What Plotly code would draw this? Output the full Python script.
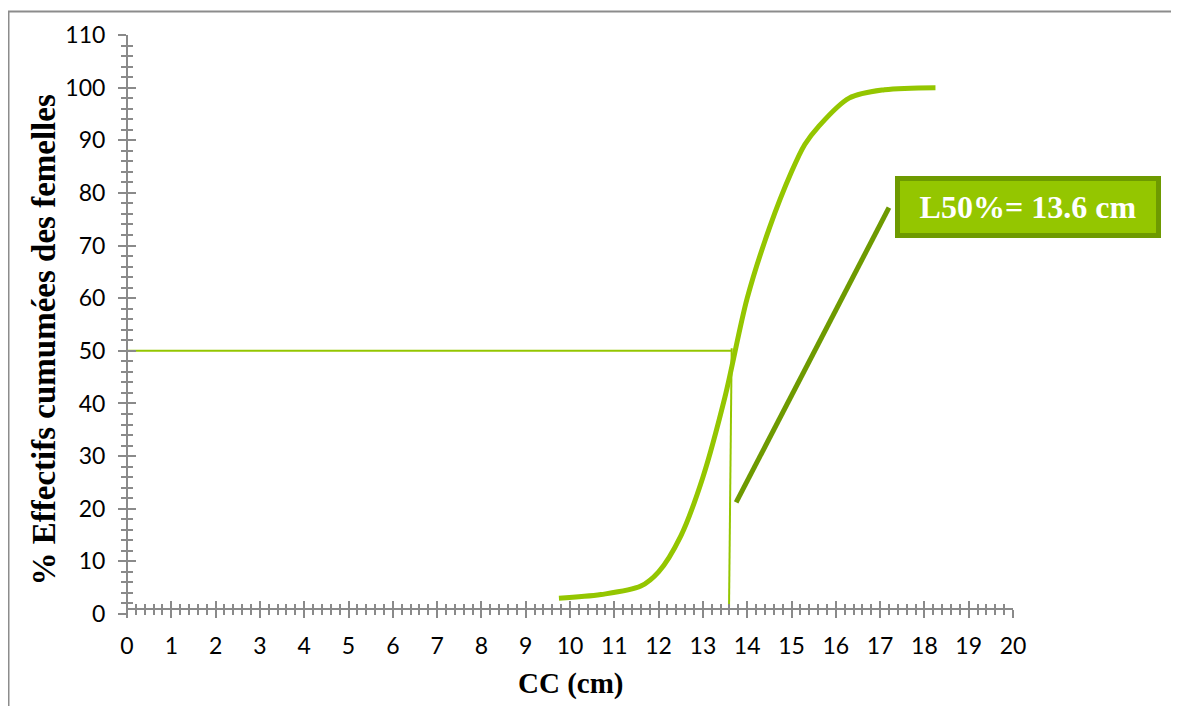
import plotly.graph_objects as go

# ---- data ----
cc_cm = [9.75, 10.7, 11.6, 12.0, 12.5, 13.0, 13.5, 14.0, 14.5, 15.0, 15.3, 15.6, 16.3, 17.1, 18.25]
pct_cum = [3.0, 3.7, 5.3, 8.0, 14.8, 26.0, 41.3, 60.0, 73.3, 84.0, 89.2, 92.5, 98.0, 99.6, 100.0]

l50_h_x = [0, 13.65]
l50_h_y = [50, 50]
l50_v_x = [13.65, 13.59]
l50_v_y = [50.5, 1.4]

connector_x = [13.75, 17.2]
connector_y = [21.2, 77.2]

label_text = "L50%= 13.6 cm"

x_ticks = list(range(0, 21))
y_ticks = list(range(0, 111, 10))

x_title = "CC (cm)"
y_title = "% Effectifs cumumées des femelles"

# ---- styles ----
GREEN = "#94C600"
DARK_GREEN = "#6E9A00"
AXIS = "#8A8A8A"
OFF = 8  # page body margin
W, H = 1179 - OFF, 706 - OFF
L, R, T, B = 127 - OFF, 1013 - OFF, 32 - OFF, 614 - OFF

fig = go.Figure()

fig.add_trace(go.Scatter(x=l50_h_x, y=l50_h_y, mode="lines",
                         line=dict(color=GREEN, width=2), hoverinfo="skip"))
fig.add_trace(go.Scatter(x=l50_v_x, y=l50_v_y, mode="lines",
                         line=dict(color=GREEN, width=2), hoverinfo="skip"))
fig.add_trace(go.Scatter(x=cc_cm, y=pct_cum, mode="lines",
                         line=dict(color=GREEN, width=5, shape="spline", smoothing=0.9)))
fig.add_trace(go.Scatter(x=connector_x, y=connector_y, mode="lines",
                         line=dict(color=DARK_GREEN, width=5), hoverinfo="skip"))
# invisible trace on the overlay axes (for crossing tick marks)
fig.add_trace(go.Scatter(x=[None], y=[None], xaxis="x2", yaxis="y2", showlegend=False))

ypos = 1 / 110.0

common_font = dict(family="Lato, Open Sans, sans-serif", size=23, color="black")

fig.update_layout(
    width=W, height=H,
    margin=dict(l=L, r=W - R, t=T, b=H - B, pad=0),
    paper_bgcolor="white", plot_bgcolor="white",
    showlegend=False,
    xaxis=dict(range=[0, 20], tickvals=x_ticks, ticktext=[str(v) for v in x_ticks],
               showgrid=False, zeroline=False, showline=True, linecolor=AXIS, linewidth=2,
               ticks="outside", ticklen=8, tickwidth=2, tickcolor=AXIS,
               minor=dict(dtick=0.2, ticks="outside", ticklen=5, tickwidth=1.5, tickcolor=AXIS),
               anchor="free", position=ypos, tickfont=common_font, fixedrange=True,
               ticklabelstandoff=9),
    xaxis2=dict(range=[0, 20], overlaying="x", tickvals=x_ticks, showticklabels=False,
                showgrid=False, zeroline=False, showline=False,
                ticks="inside", ticklen=8, tickwidth=2, tickcolor=AXIS,
                minor=dict(dtick=0.2, ticks="inside", ticklen=5, tickwidth=1.5, tickcolor=AXIS),
                anchor="free", position=ypos),
    yaxis=dict(range=[0, 110], tickvals=y_ticks, ticktext=[str(v) for v in y_ticks],
               showgrid=False, zeroline=False, showline=True, linecolor=AXIS, linewidth=2,
               ticks="outside", ticklen=8, tickwidth=2, tickcolor=AXIS,
               minor=dict(dtick=2, ticks="outside", ticklen=5, tickwidth=1.5, tickcolor=AXIS),
               anchor="free", position=0, tickfont=common_font, fixedrange=True,
               ticklabelstandoff=8),
    yaxis2=dict(range=[0, 110], overlaying="y", tickvals=y_ticks, showticklabels=False,
                showgrid=False, zeroline=False, showline=False,
                ticks="inside", ticklen=8, tickwidth=2, tickcolor=AXIS,
                minor=dict(dtick=2, ticks="inside", ticklen=5, tickwidth=1.5, tickcolor=AXIS),
                anchor="free", position=0),
)

pw, ph = R - L, B - T

def px_to_paper(px, py):
    # px, py given in reference-screen pixels
    return (px - OFF - L) / pw, (B - (py - OFF)) / ph

# outer frame
x0, y1 = px_to_paper(8.5, 8.5)
x1, y0 = px_to_paper(1200, 720)
fig.add_shape(type="rect", xref="paper", yref="paper", x0=x0, x1=x1, y0=y0, y1=y1,
              line=dict(color="#8C8C8C", width=2), fillcolor="rgba(0,0,0,0)", layer="below")

# axis titles
tx, ty = px_to_paper(570, 684)
fig.add_annotation(text="<b>" + x_title + "</b>", xref="paper", yref="paper", x=tx, y=ty,
                   showarrow=False, xanchor="center", yanchor="middle",
                   font=dict(family="Liberation Serif, Times New Roman, serif", size=29, color="black"))
tx, ty = px_to_paper(44, 339)
fig.add_annotation(text="<b>" + y_title + "</b>", xref="paper", yref="paper", x=tx, y=ty,
                   showarrow=False, textangle=-90, xanchor="center", yanchor="middle",
                   font=dict(family="Liberation Serif, Times New Roman, serif", size=33, color="black"))

# L50 label box
bx, by = px_to_paper(1028, 205)
fig.add_annotation(text="<b>" + label_text + "</b>", x=bx, y=by, xref="paper", yref="paper",
                   showarrow=False, xanchor="center", yanchor="middle",
                   width=256, height=52, align="center", valign="middle",
                   bgcolor=GREEN, bordercolor=DARK_GREEN, borderwidth=5, borderpad=0,
                   font=dict(family="Liberation Serif, Times New Roman, serif", size=32, color="white"))

fig.write_html("out.html")
